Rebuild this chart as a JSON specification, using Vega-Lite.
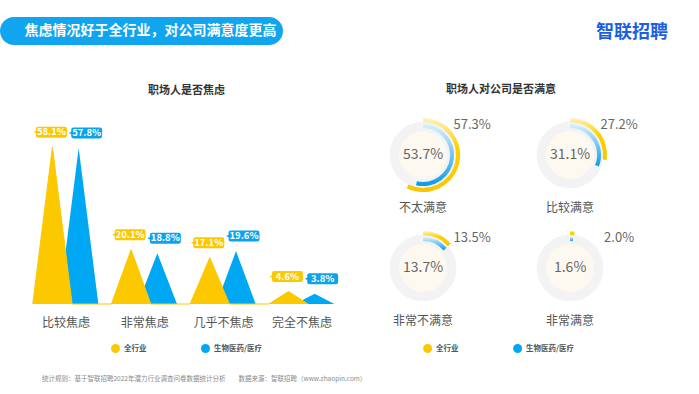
{
  "$schema": "https://vega.github.io/schema/vega-lite/v6.json",
  "background": "white",
  "padding": {"left": 0, "top": 17, "right": 0, "bottom": 0},
  "config": {"font": "Noto Sans CJK SC", "view": {"stroke": null}, "headerFacet": {"labels": false, "title": null, "labelExpr": "''", "labelFontSize": 1, "labelPadding": 0}, "header": {"labels": false, "title": null}},
  "title": {"text": "统计规则：基于智联招聘2022年潜力行业调查问卷数据统计分析　　数据来源：智联招聘（www.zhaopin.com）", "orient": "bottom", "anchor": "start", "frame": "group", "dx": 42, "offset": 23, "fontSize": 6.5, "fontWeight": "normal", "color": "#8a8a8a"},
  "datasets": {
    "anxiety": [
      {"cat": "比较焦虑", "series": "全行业", "value": 58.1},
      {"cat": "比较焦虑", "series": "生物医药/医疗", "value": 57.8},
      {"cat": "非常焦虑", "series": "全行业", "value": 20.1},
      {"cat": "非常焦虑", "series": "生物医药/医疗", "value": 18.8},
      {"cat": "几乎不焦虑", "series": "全行业", "value": 17.1},
      {"cat": "几乎不焦虑", "series": "生物医药/医疗", "value": 19.6},
      {"cat": "完全不焦虑", "series": "全行业", "value": 4.6},
      {"cat": "完全不焦虑", "series": "生物医药/医疗", "value": 3.8}
    ],
    "satisfaction": [
      {"cat": "不太满意", "series": "全行业", "value": 57.3},
      {"cat": "不太满意", "series": "生物医药/医疗", "value": 53.7},
      {"cat": "比较满意", "series": "全行业", "value": 27.2},
      {"cat": "比较满意", "series": "生物医药/医疗", "value": 31.1},
      {"cat": "非常不满意", "series": "全行业", "value": 13.5},
      {"cat": "非常不满意", "series": "生物医药/医疗", "value": 13.7},
      {"cat": "非常满意", "series": "全行业", "value": 2.0},
      {"cat": "非常满意", "series": "生物医药/医疗", "value": 1.6}
    ],
    "header": [{"t": "焦虑情况好于全行业，对公司满意度更高", "logo": "智联招聘"}]
  },
  "bounds": "flush",
  "spacing": 98,
  "vconcat": [
    {
      "spacing": 309,
      "bounds": "flush",
      "hconcat": [
        {
          "width": 283, "height": 28,
          "view": {"fill": "#12a5ef", "cornerRadius": 14, "stroke": null},
          "data": {"name": "header"},
          "mark": {"type": "text", "color": "white", "fontSize": 14, "fontWeight": "bold", "dx": 9},
          "encoding": {"text": {"field": "t"}}
        },
        {
          "width": 80, "height": 28,
          "data": {"name": "header"},
          "mark": {"type": "text", "color": "#1d5fe3", "fontSize": 18, "fontWeight": "bold", "dy": 2},
          "encoding": {"text": {"field": "logo"}}
        }
      ]
    },
    {
      "spacing": 32.1,
      "bounds": "flush",
      "resolve": {"scale": {"color": "independent"}, "legend": {"color": "independent"}},
      "hconcat": [
        {
          "width": 340.9, "height": 189,
          "title": {"text": "职场人是否焦虑", "fontSize": 11, "fontWeight": "bold", "color": "#333", "offset": 19.5, "dx": 16},
          "data": {"name": "anxiety"},
          "resolve": {"scale": {"x": "independent"}, "axis": {"x": "independent"}},
          "layer": [
            {
              "transform": [{"filter": "datum.series === '生物医药/医疗'"}],
              "encoding": {
                "x": {"field": "cat", "type": "ordinal",
                  "sort": ["_a","_b","_c","_0","_1","_2","_3","_4","bL0","_6","_7","比较焦虑","_9","_10","bR0","_12","_13","_14","_15","_16","bL1","_18","_19","非常焦虑","_21","_22","bR1","_24","_25","_26","_27","_28","bL2","_30","_31","几乎不焦虑","_33","_34","bR2","_36","_37","_38","_39","_40","bL3","_42","_43","完全不焦虑","_45","_46","bR3"],
                  "scale": {"type": "point", "padding": 1, "domain": ["_a","_b","_c","_0","_1","_2","_3","_4","bL0","_6","_7","比较焦虑","_9","_10","bR0","_12","_13","_14","_15","_16","bL1","_18","_19","非常焦虑","_21","_22","bR1","_24","_25","_26","_27","_28","bL2","_30","_31","几乎不焦虑","_33","_34","bR2","_36","_37","_38","_39","_40","bL3","_42","_43","完全不焦虑","_45","_46","bR3"]},
                  "axis": null},
                "y": {"field": "value", "type": "quantitative", "scale": {"domain": [0, 65.4]}, "axis": null, "stack": null}
              },
              "layer": [
                {
                  "transform": [{"impute": "value", "key": "cat", "keyvals": ["bL0","bR0","bL1","bR1","bL2","bR2","bL3","bR3"], "groupby": ["series"], "value": 0}],
                  "mark": {"type": "area", "interpolate": "linear", "opacity": 1},
                  "encoding": {
                    "color": {"field": "series", "type": "nominal",
                      "scale": {"domain": ["全行业", "生物医药/医疗"], "range": ["#fcc800", "#00a8f3"]},
                      "legend": {"orient": "none", "legendX": 111, "legendY": 229, "direction": "horizontal", "title": null, "symbolType": "circle", "symbolSize": 80, "symbolOpacity": 1, "symbolStrokeWidth": 0, "labelFontSize": 7.5, "labelFontWeight": "bold", "labelColor": "#555", "columnPadding": 54}}
                  }
                },
                {
                  "mark": {"type": "point", "shape": "M-0.85,-0.355L0.85,-0.355Q1,-0.355 1,-0.205L1,0.205Q1,0.355 0.85,0.355L-0.85,0.355Q-1,0.355 -1,0.205L-1,0.06L-1.12,0.03L-1.12,-0.03L-1,-0.06L-1,-0.205Q-1,-0.355 -0.85,-0.355Z", "size": 961, "filled": true, "fill": "#0ca2ec", "opacity": 1, "strokeWidth": 0, "yOffset": -15, "xOffset": 8}
                },
                {
                  "mark": {"type": "text", "color": "white", "fontSize": 9.5, "fontWeight": "bold", "dy": -15, "dx": 8, "text": {"expr": "format(datum.value, '.1f') + '%'"}}
                }
              ]
            },
            {
              "transform": [{"filter": "datum.series === '全行业'"}],
              "encoding": {
                "x": {"field": "cat", "type": "ordinal",
                  "sort": ["_a","_b","_c","_0","yL0","_2","_3","比较焦虑","_5","_6","yR0","_8","_9","_10","_11","_12","yL1","_14","_15","非常焦虑","_17","_18","yR1","_20","_21","_22","_23","_24","yL2","_26","_27","几乎不焦虑","_29","_30","yR2","_32","_33","_34","_35","_36","yL3","_38","_39","完全不焦虑","_41","_42","yR3","_44","_45","_46","_47"],
                  "scale": {"type": "point", "padding": 1, "domain": ["_a","_b","_c","_0","yL0","_2","_3","比较焦虑","_5","_6","yR0","_8","_9","_10","_11","_12","yL1","_14","_15","非常焦虑","_17","_18","yR1","_20","_21","_22","_23","_24","yL2","_26","_27","几乎不焦虑","_29","_30","yR2","_32","_33","_34","_35","_36","yL3","_38","_39","完全不焦虑","_41","_42","yR3","_44","_45","_46","_47"]},
                  "axis": null},
                "y": {"field": "value", "type": "quantitative", "scale": {"domain": [0, 65.4]}, "axis": null, "stack": null}
              },
              "layer": [
                {
                  "transform": [{"impute": "value", "key": "cat", "keyvals": ["yL0","yR0","yL1","yR1","yL2","yR2","yL3","yR3"], "groupby": ["series"], "value": 0}],
                  "mark": {"type": "area", "interpolate": "linear", "opacity": 1, "line": {"color": "#fcc800", "strokeWidth": 1}},
                  "encoding": {
                    "color": {"field": "series", "type": "nominal"}
                  }
                },
                {
                  "mark": {"type": "point", "shape": "M-0.85,-0.355L0.85,-0.355Q1,-0.355 1,-0.205L1,0.205Q1,0.355 0.85,0.355L-0.85,0.355Q-1,0.355 -1,0.205L-1,0.06L-1.12,0.03L-1.12,-0.03L-1,-0.06L-1,-0.205Q-1,-0.355 -0.85,-0.355Z", "size": 961, "filled": true, "fill": "#fcc800", "opacity": 1, "strokeWidth": 0, "yOffset": -15, "xOffset": -1}
                },
                {
                  "mark": {"type": "text", "color": "white", "fontSize": 9.5, "fontWeight": "bold", "dy": -15, "dx": -1, "text": {"expr": "format(datum.value, '.1f') + '%'"}}
                }
              ]
            },
            {
              "transform": [{"filter": "datum.series === '全行业'"}],
              "mark": {"type": "point", "opacity": 0},
              "encoding": {
                "x": {"field": "cat", "type": "ordinal",
                  "scale": {"type": "point", "padding": 1, "domain": ["_a","_b","_c","_0","_1","_2","_3","_4","_5","比较焦虑","_7","_8","_9","_10","_11","_12","_13","_14","_15","_16","_17","非常焦虑","_19","_20","_21","_22","_23","_24","_25","_26","_27","_28","_29","几乎不焦虑","_31","_32","_33","_34","_35","_36","_37","_38","_39","_40","_41","完全不焦虑","_43","_44","_45","_46","_47"]},
                  "axis": {"title": null, "labelExpr": "indexof(datum.label, '_') === 0 ? '' : datum.label", "ticks": false, "domain": false, "labelFontSize": 12, "labelColor": "#555", "labelPadding": 13, "labelOverlap": false, "labelAngle": 0, "labelBound": false}},
                "y": {"field": "value", "type": "quantitative"}
              }
            }
          ]
        },
        {
          "data": {"name": "satisfaction"},
          "title": {"text": "职场人对公司是否满意", "fontSize": 11, "fontWeight": "bold", "color": "#333", "offset": 10.5, "dx": 73},
          "facet": {"field": "cat", "type": "nominal", "sort": ["不太满意", "比较满意", "非常不满意", "非常满意"], "header": {"labels": false, "title": null, "labelExpr": "''", "labelFontSize": 1, "labelPadding": 0}},
          "columns": 2,
          "bounds": "flush",
          "spacing": {"row": 33, "column": 47},
          "spec": {
            "width": 100, "height": 80,
            "layer": [
              {
                "transform": [{"filter": "datum.series === '全行业'"}],
                "mark": {"type": "point", "shape": "circle", "size": 3217, "filled": false, "stroke": "#f3f3f3", "strokeWidth": 10, "opacity": 1}
              },
              {
                "transform": [{"filter": "datum.series === '全行业'"}],
                "mark": {"type": "point", "shape": "circle", "size": 2290, "filled": true, "fill": "#fdf9f1", "strokeWidth": 0, "opacity": 1}
              },
              {
                "transform": [{"filter": "datum.series === '全行业'"}],
                "mark": {"type": "arc", "radius": 37, "radius2": 33,
                  "fill": {"gradient": "linear", "x1": 0, "y1": 0, "x2": 0, "y2": 1, "stops": [{"offset": 0, "color": "#fff1bf"}, {"offset": 0.4, "color": "#fcd100"}, {"offset": 1, "color": "#fbc500"}]}},
                "encoding": {
                  "theta": {"field": "value", "type": "quantitative", "stack": null, "scale": {"domain": [0, 100], "range": [0, 6.2832]}}
                }
              },
              {
                "transform": [{"filter": "datum.series === '生物医药/医疗'"}],
                "mark": {"type": "arc", "radius": 31, "radius2": 27,
                  "fill": {"gradient": "linear", "x1": 0, "y1": 0, "x2": 0, "y2": 1, "stops": [{"offset": 0, "color": "#dcf0fb"}, {"offset": 1, "color": "#0a9be6"}]}},
                "encoding": {
                  "theta": {"field": "value", "type": "quantitative", "stack": null}
                }
              },
              {
                "transform": [{"filter": "datum.series === '生物医药/医疗'"}],
                "mark": {"type": "text", "fontSize": 14, "color": "#666", "text": {"expr": "format(datum.value, '.1f') + '%'"}}
              },
              {
                "transform": [{"filter": "datum.series === '全行业'"}],
                "mark": {"type": "text", "fontSize": 13, "color": "#666", "dx": 49, "dy": -30, "text": {"expr": "format(datum.value, '.1f') + '%'"}}
              },
              {
                "transform": [{"filter": "datum.series === '全行业'"}],
                "mark": {"type": "text", "fontSize": 12, "color": "#555", "dy": 53},
                "encoding": {"text": {"field": "cat"}}
              },
              {
                "mark": {"type": "point", "opacity": 0, "filled": true},
                "encoding": {
                  "color": {"field": "series", "type": "nominal",
                    "scale": {"domain": ["全行业", "生物医药/医疗"], "range": ["#fcc800", "#00a8f3"]},
                    "legend": {"orient": "none", "legendX": 50, "legendY": 229, "direction": "horizontal", "title": null, "symbolType": "circle", "symbolSize": 80, "symbolOpacity": 1, "symbolStrokeWidth": 0, "labelFontSize": 7.5, "labelFontWeight": "bold", "labelColor": "#555", "columnPadding": 54}}
                }
              }
            ]
          }
        }
      ]
    }
  ]
}
